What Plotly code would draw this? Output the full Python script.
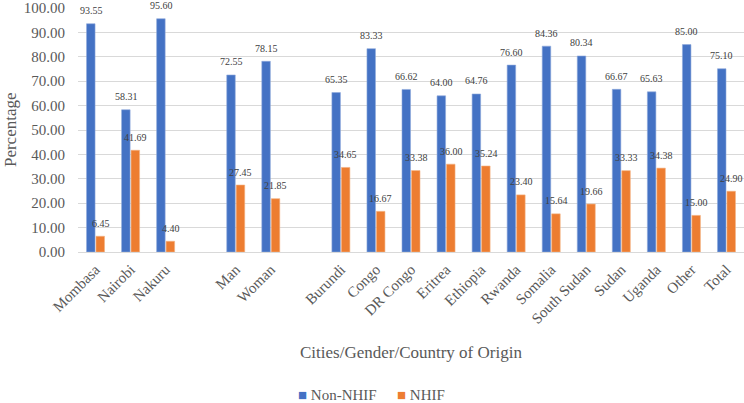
import plotly.graph_objects as go

categories = ["Mombasa", "Nairobi", "Nakuru", " ", "Man", "Woman", "  ",
              "Burundi", "Congo", "DR Congo", "Eritrea", "Ethiopia", "Rwanda",
              "Somalia", "South Sudan", "Sudan", "Uganda", "Other", "Total"]
non_nhif = [93.55, 58.31, 95.60, None, 72.55, 78.15, None,
            65.35, 83.33, 66.62, 64.00, 64.76, 76.60,
            84.36, 80.34, 66.67, 65.63, 85.00, 75.10]
nhif = [6.45, 41.69, 4.40, None, 27.45, 21.85, None,
        34.65, 16.67, 33.38, 36.00, 35.24, 23.40,
        15.64, 19.66, 33.33, 34.38, 15.00, 24.90]
y_ticks = [0, 10, 20, 30, 40, 50, 60, 70, 80, 90, 100]

FONT = "Liberation Serif"
BLUE = "#4472C4"
ORANGE = "#ED7D31"

fig = go.Figure()
fig.add_trace(go.Bar(x=categories, y=non_nhif, name="Non-NHIF",
                     marker=dict(color=BLUE, line=dict(color="#8FAADC", width=0.6))))
fig.add_trace(go.Bar(x=categories, y=nhif, name="NHIF",
                     marker=dict(color=ORANGE, line=dict(color="#F4B183", width=0.6))))

annotations = []
for series, shift in ((non_nhif, -4.5), (nhif, 5.0)):
    for cat, v in zip(categories, series):
        if v is None:
            continue
        annotations.append(dict(
            x=cat, y=v, xref="x", yref="y", text=f"{v:.2f}", showarrow=False,
            xanchor="center", yanchor="middle", xshift=shift, yshift=13,
            font=dict(size=10, color="#404040", family=FONT)))

annotations += [
    dict(text="Cities/Gender/Country of Origin", xref="paper", yref="paper",
         x=0.5, y=-0.41, xanchor="center", yanchor="middle", showarrow=False,
         font=dict(size=17, color="#595959", family=FONT)),
    dict(text="Percentage", xref="paper", yref="paper",
         x=-0.102, y=0.5, xanchor="center", yanchor="middle", showarrow=False,
         textangle=-90, font=dict(size=17, color="#595959", family=FONT)),
    dict(text=f"<span style='color:{BLUE}'>■</span> Non-NHIF", xref="paper", yref="paper",
         x=(296 - 78) / 666, y=-0.588, xanchor="left", yanchor="middle", showarrow=False,
         font=dict(size=15, color="#595959", family=FONT)),
    dict(text=f"<span style='color:{ORANGE}'>■</span> NHIF", xref="paper", yref="paper",
         x=(395 - 78) / 666, y=-0.588, xanchor="left", yanchor="middle", showarrow=False,
         font=dict(size=15, color="#595959", family=FONT)),
]

fig.update_layout(
    width=744, height=403,
    margin=dict(l=78, r=0, t=8, b=151),
    paper_bgcolor="white", plot_bgcolor="white",
    font=dict(family=FONT, color="#595959"),
    barmode="group", bargap=0.46, bargroupgap=0.1,
    showlegend=False,
    annotations=annotations,
)
fig.update_xaxes(type="category", categoryorder="array", categoryarray=categories,
                 range=[-0.5, len(categories) - 0.5], tickangle=-45,
                 tickfont=dict(size=15, color="#595959", family=FONT),
                 showline=True, linecolor="#D9D9D9", linewidth=1,
                 showgrid=False, ticks="", automargin=False, ticklabelstandoff=2)
fig.update_yaxes(range=[0, 100], tickvals=y_ticks,
                 ticktext=[f"{v:.2f}" for v in y_ticks],
                 tickfont=dict(size=15, color="#595959", family=FONT),
                 showgrid=True, gridcolor="#D9D9D9", gridwidth=1,
                 zeroline=False, showline=False, ticks="", automargin=False,
                 ticklabelstandoff=12)

fig.write_html("out.html", config={"displayModeBar": False},
               post_script="document.body.style.margin='0';")
